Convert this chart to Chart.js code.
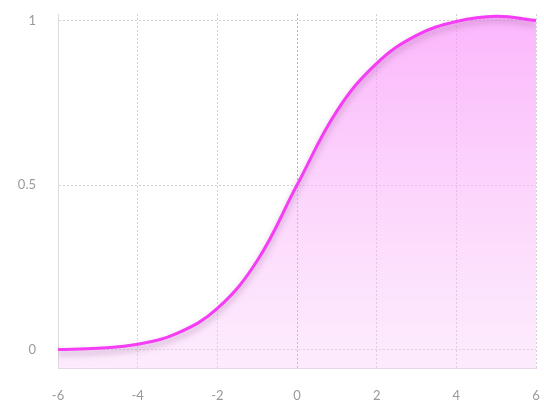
<!DOCTYPE html>
<html>
<head>
<meta charset="utf-8">
<script src="https://cdn.jsdelivr.net/npm/chart.js@4"></script>
<style>
html,body{margin:0;padding:0;background:#fff;}
#wrap{width:544px;height:405px;position:relative;}
</style>
</head>
<body>
<div id="wrap"><canvas id="c" width="544" height="405"></canvas></div>
<script>
const xValues = [-6, -5, -4, -3, -2, -1, 0, 1, 2, 3, 4, 5, 6];
const yValues = [0.0, 0.004, 0.016, 0.05, 0.125, 0.27, 0.5, 0.725, 0.87, 0.955, 0.997, 1.013, 1.0];
const yTickValues = [0, 0.5, 1];
const xTickValues = [-6, -4, -2, 0, 2, 4, 6];

const shadowPlugin = {
  id: 'lineShadow',
  beforeDatasetDraw(chart) {
    const ctx = chart.ctx;
    ctx.save();
    ctx.shadowColor = 'rgba(110,50,110,0.38)';
    ctx.shadowBlur = 6;
    ctx.shadowOffsetX = 0;
    ctx.shadowOffsetY = 4;
  },
  afterDatasetDraw(chart) {
    chart.ctx.restore();
  }
};

const ctx = document.getElementById('c').getContext('2d');
new Chart(ctx, {
  type: 'line',
  data: {
    datasets: [{
      data: xValues.map((x, i) => ({x: x, y: yValues[i]})),
      borderColor: '#f53df5',
      borderWidth: 3,
      pointRadius: 0,
      tension: 0.4,
      fill: 'start',
      backgroundColor: (c) => {
        const area = c.chart.chartArea;
        if (!area) return 'rgba(249,150,249,0.5)';
        const g = c.chart.ctx.createLinearGradient(0, area.top, 0, area.bottom);
        g.addColorStop(0, 'rgba(249,140,249,0.64)');
        g.addColorStop(1, 'rgba(249,200,249,0.35)');
        return g;
      }
    }]
  },
  plugins: [shadowPlugin],
  options: {
    responsive: false,
    animation: false,
    layout: { padding: { top: 14, right: 8, left: 0, bottom: 0 } },
    plugins: { legend: { display: false }, tooltip: { enabled: false } },
    scales: {
      x: {
        type: 'linear',
        min: -6, max: 6,
        afterBuildTicks: (s) => { s.ticks = xTickValues.map(v => ({value: v})); },
        afterFit: (s) => { s.height = 37; s.paddingLeft = 0; s.paddingRight = 0; },
        grid: {
          color: (c) => c.tick && c.tick.value === 0 ? '#b5b5b5' : '#d2d2d2',
          drawTicks: false
        },
        border: { display: true, color: '#e8d6e8', width: 1, dash: [2, 2] },
        ticks: {
          padding: 20,
          color: '#9a9a9a',
          font: { family: 'Lato', size: 13 },
          callback: (v) => String(v)
        }
      },
      y: {
        type: 'linear',
        min: -0.056, max: 1.02,
        afterBuildTicks: (s) => { s.ticks = yTickValues.map(v => ({value: v})); },
        afterFit: (s) => { s.width = 58; s.paddingTop = 0; s.paddingBottom = 0; },
        grid: {
          color: '#d2d2d2',
          drawTicks: false
        },
        border: { display: true, color: '#dcdcdc', width: 1, dash: [2, 2] },
        ticks: {
          padding: 22,
          color: '#9a9a9a',
          font: { family: 'Lato', size: 13 },
          callback: (v) => String(v)
        }
      }
    }
  }
});
</script>
</body>
</html>
